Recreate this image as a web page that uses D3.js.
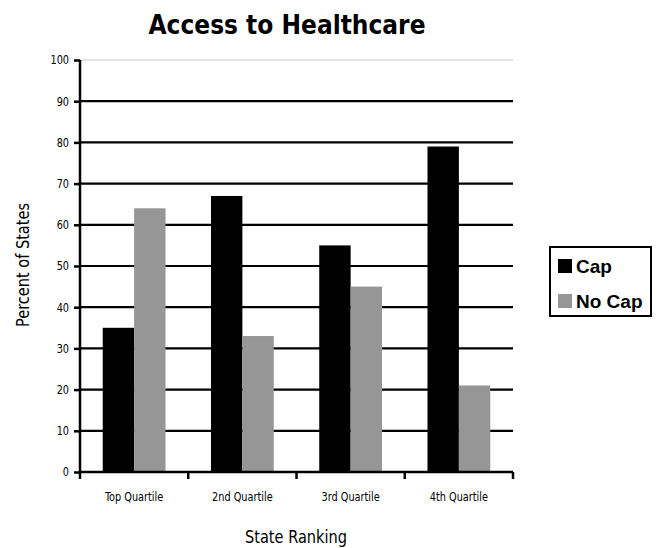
<!DOCTYPE html>
<html><head><meta charset="utf-8">
<script src="https://cdn.jsdelivr.net/npm/d3@7"></script>
<style>body{margin:0;background:#fff}svg{display:block}</style>
</head><body><svg id="c" width="668" height="548"></svg>
<script>
const categories = ["Top Quartile","2nd Quartile","3rd Quartile","4th Quartile"];
const seriesNames = ["Cap","No Cap"];
const capValues = [35,67,55,79];
const noCapValues = [64,33,45,21];
const yTicks = [0,10,20,30,40,50,60,70,80,90,100];
const colors = ["#000000","#969696"];

const svg = d3.select("#c");
const L=80,R=513,T=60,B=472;
const narrow = "'Liberation Sans Narrow','DejaVu Sans Condensed',sans-serif";
const x = d3.scaleBand().domain(categories).range([L,R]).paddingInner(0.42).paddingOuter(0.21);
const xs = d3.scaleBand().domain(seriesNames).range([0,x.bandwidth()]);
const y = d3.scaleLinear().domain([0,100]).range([B,T]);
function squeeze(sel,k){ sel.each(function(){ const w=this.getComputedTextLength(); d3.select(this).attr("textLength",w*k).attr("lengthAdjust","spacingAndGlyphs"); }); }

// gridlines
svg.append("g").selectAll("line").data(yTicks.filter(d=>d>0)).join("line")
  .attr("x1",L).attr("x2",R).attr("y1",d=>y(d)).attr("y2",d=>y(d))
  .attr("stroke",d=>d===100?"#c8c8c8":"#000").attr("stroke-width",d=>d===100?1:2.2);

// bars
const data = categories.map((c,i)=>({c,vals:[capValues[i],noCapValues[i]]}));
svg.append("g").selectAll("g").data(data).join("g")
  .attr("transform",d=>`translate(${x(d.c)},0)`)
  .selectAll("rect").data(d=>d.vals.map((v,j)=>({s:seriesNames[j],v,j}))).join("rect")
  .attr("x",d=>xs(d.s)).attr("width",xs.bandwidth())
  .attr("y",d=>y(d.v)).attr("height",d=>B-y(d.v)).attr("fill",d=>colors[d.j]);

// y axis
const ya = svg.append("g").attr("transform",`translate(${L},0)`)
  .call(d3.axisLeft(y).tickValues(yTicks).tickSize(6).tickPadding(5));
ya.select(".domain").attr("stroke-width",2.5).attr("d",`M0,${T}V${B}`);
ya.selectAll(".tick line").attr("stroke-width",2.5);
ya.selectAll("text").attr("font-family",narrow).attr("font-size",12).attr("fill","#000").call(squeeze,0.9);

// x axis
const xa = svg.append("g").attr("transform",`translate(0,${B})`)
  .call(d3.axisBottom(x).tickSize(0).tickPadding(20));
xa.select(".domain").attr("stroke-width",2.5).attr("d",`M${L},0H${R}`);
xa.selectAll("text").attr("font-family",narrow).attr("font-size",12).attr("fill","#000").call(squeeze,0.9);
const bounds = [L].concat(categories.map(c=>x(c)+x.bandwidth()+x.step()*x.paddingInner()/2));
bounds[bounds.length-1]=R;
xa.selectAll(".bt").data(bounds).join("line").attr("class","bt")
  .attr("x1",d=>d).attr("x2",d=>d).attr("y1",0).attr("y2",7).attr("stroke","#000").attr("stroke-width",2.5);

// title
svg.append("text").attr("x",287).attr("y",34).attr("text-anchor","middle")
  .attr("font-family",narrow).attr("font-weight","bold").attr("font-size",27)
  .text("Access to Healthcare").call(squeeze,0.96).attr("textLength",277);
// axis titles
svg.append("text").attr("transform","translate(29,265) rotate(-90)").attr("text-anchor","middle")
  .attr("font-family",narrow).attr("font-size",17).attr("textLength",124).attr("lengthAdjust","spacingAndGlyphs").text("Percent of States");
svg.append("text").attr("x",296).attr("y",543).attr("text-anchor","middle")
  .attr("font-family",narrow).attr("font-size",17).attr("textLength",102).attr("lengthAdjust","spacingAndGlyphs").text("State Ranking");

// legend
const lg = svg.append("g");
lg.append("rect").attr("x",550).attr("y",247).attr("width",101).attr("height",69)
  .attr("fill","#fff").attr("stroke","#000").attr("stroke-width",2);
seriesNames.forEach((s,i)=>{
  lg.append("rect").attr("x",558).attr("y",259+i*35).attr("width",14).attr("height",14).attr("fill",colors[i]);
  lg.append("text").attr("x",576).attr("y",273+i*35).attr("font-family","'Liberation Sans',Arial,sans-serif")
    .attr("font-weight","bold").attr("font-size",19).text(s);
});
</script></body></html>
